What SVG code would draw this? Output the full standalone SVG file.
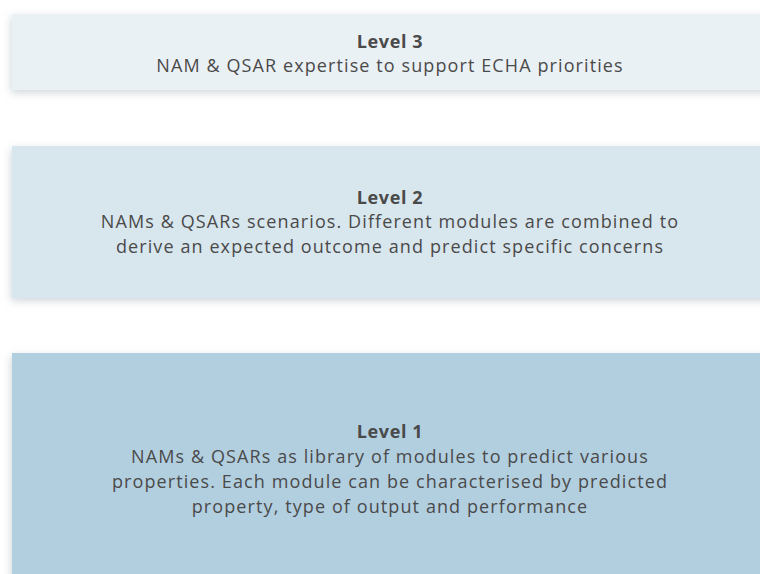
<svg xmlns="http://www.w3.org/2000/svg" width="760" height="574" viewBox="0 0 760 574">
  <defs>
    <filter id="shadow" x="-5%" y="-20%" width="110%" height="140%">
      <feDropShadow dx="-1" dy="3" stdDeviation="4" flood-color="#7a8a99" flood-opacity="0.35"/>
    </filter>
  </defs>
  <style>
    text { font-family: "Open Sans", "Noto Sans", "Liberation Sans", sans-serif; fill: #4a4a4a; text-anchor: middle; }
    .title { font-weight: bold; font-size: 18px; letter-spacing: 0.6px; }
    .body { font-size: 18px; letter-spacing: 1.1px; }
  </style>
  <rect width="760" height="574" fill="#ffffff"/>

  <g id="level3">
    <rect x="12" y="14" width="760" height="76" fill="#eaf1f5" filter="url(#shadow)"/>
    <text class="title" x="390" y="48">Level 3</text>
    <text class="body" x="390" y="72">NAM &amp; QSAR expertise to support ECHA priorities</text>
  </g>

  <g id="level2">
    <rect x="12" y="146" width="760" height="152" fill="#d8e6ee" filter="url(#shadow)"/>
    <text class="title" x="390" y="204">Level 2</text>
    <text class="body" x="390" y="228">NAMs &amp; QSARs scenarios. Different modules are combined to</text>
    <text class="body" x="390" y="253">derive an expected outcome and predict specific concerns</text>
  </g>

  <g id="level1">
    <rect x="12" y="353" width="760" height="240" fill="#b2cfe0" filter="url(#shadow)"/>
    <text class="title" x="390" y="438">Level 1</text>
    <text class="body" x="390" y="463">NAMs &amp; QSARs as library of modules to predict various</text>
    <text class="body" x="390" y="488">properties. Each module can be characterised by predicted</text>
    <text class="body" x="390" y="513">property, type of output and performance</text>
  </g>
</svg>
